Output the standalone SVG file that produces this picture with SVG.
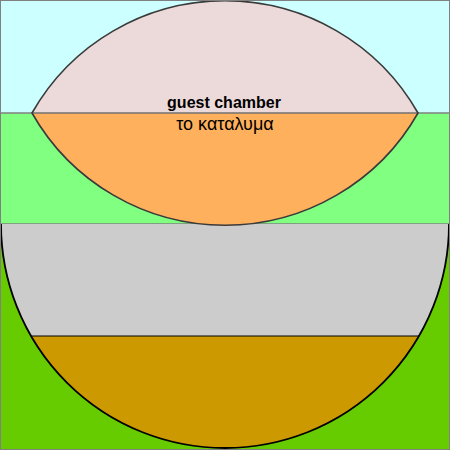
<svg xmlns="http://www.w3.org/2000/svg" width="450" height="450" viewBox="0 0 450 450">
<defs>
<style>
.sky{fill:#ccffff}
.grass{fill:#80ff80}
.ground{fill:#66cc00}
.grey{fill:#cccccc}
.brown{fill:#cc9900}
.pink{fill:#ecdada}
.orange{fill:#ffb05c}
.div{stroke:#808080;stroke-width:1.5;fill:none}
.edge{stroke:#3a3a3a;stroke-width:1.6;fill:none}
.bowl{stroke:#000;stroke-width:1.8;fill:none}
.t1{font-family:"Liberation Sans",Arial,sans-serif;font-weight:bold;font-size:16px;fill:#000;text-anchor:middle}
.t2{font-family:"Liberation Sans",Arial,sans-serif;font-size:18px;fill:#000;text-anchor:middle}
</style>
<clipPath id="bowlClip"><circle cx="225" cy="224" r="224"/></clipPath>
</defs>
<g id="background">
<rect class="sky" x="0" y="0" width="450" height="113"/>
<rect class="grass" x="0" y="113" width="450" height="111"/>
<rect class="ground" x="0" y="224" width="450" height="226"/>
<line class="div" x1="0" y1="113" x2="450" y2="113"/>
<line class="div" x1="0" y1="224" x2="450" y2="224"/>
</g>
<g id="bowl">
<g clip-path="url(#bowlClip)">
<rect class="grey" x="0" y="224" width="450" height="112"/>
<rect class="brown" x="0" y="336" width="450" height="114"/>
<line x1="0" y1="336" x2="450" y2="336" stroke="#000" stroke-width="1"/>
</g>
<path class="bowl" d="M1,224 A224,224 0 0 0 449,224"/>
</g>
<g id="guest-chamber">
<path class="pink" d="M32,113 A222,222 0 0 1 418,113 Z"/>
<path class="orange" d="M32,113 A222,222 0 0 0 418,113 Z"/>
<line x1="32" y1="113" x2="418" y2="113" stroke="#707070" stroke-width="1.5"/>
<path class="edge" d="M32,113 A222,222 0 0 1 418,113 A222,222 0 0 1 32,113 Z"/>
<text class="t1" x="224" y="108">guest chamber</text>
<text class="t2" x="225" y="130">το καταλυμα</text>
</g>
<rect x="0.5" y="0.5" width="449" height="449" fill="none" stroke="#808080" stroke-width="1"/>
</svg>
